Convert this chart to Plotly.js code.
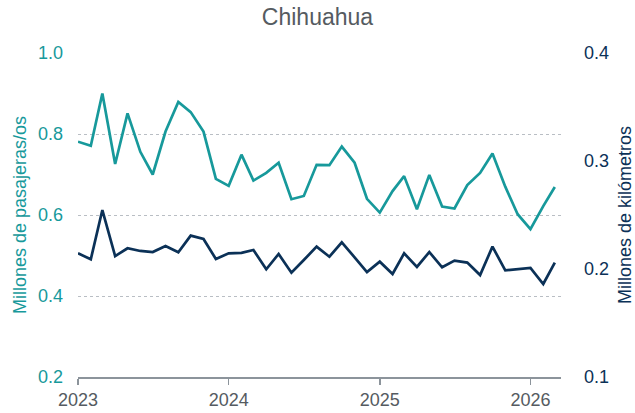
<!DOCTYPE html>
<html>
<head>
<meta charset="utf-8">
<script src="https://cdn.plot.ly/plotly-3.0.1.min.js"></script>
<style>html,body{margin:0;padding:0;background:#fff}#chart{width:635px;height:413px}</style>
</head>
<body>
<div id="chart"></div>
<script>
var months = [
  "2023-01-01","2023-02-01","2023-03-01","2023-04-01","2023-05-01","2023-06-01",
  "2023-07-01","2023-08-01","2023-09-01","2023-10-01","2023-11-01","2023-12-01",
  "2024-01-01","2024-02-01","2024-03-01","2024-04-01","2024-05-01","2024-06-01",
  "2024-07-01","2024-08-01","2024-09-01","2024-10-01","2024-11-01","2024-12-01",
  "2025-01-01","2025-02-01","2025-03-01","2025-04-01","2025-05-01","2025-06-01",
  "2025-07-01","2025-08-01","2025-09-01","2025-10-01","2025-11-01","2025-12-01",
  "2026-01-01","2026-02-01","2026-03-01"
];
var pasajeros = [
  0.781,0.771,0.900,0.726,0.851,0.756,0.700,0.806,0.879,0.854,0.806,0.689,
  0.672,0.749,0.685,0.704,0.729,0.639,0.647,0.724,0.723,0.769,0.729,0.640,
  0.606,0.659,0.696,0.614,0.699,0.621,0.616,0.674,0.704,0.752,0.670,0.602,
  0.565,0.622,0.669
];
var kilometros = [
  0.2145,0.209,0.2546,0.212,0.2192,0.2167,0.2157,0.2213,0.2155,0.2309,0.2278,0.2093,
  0.2145,0.215,0.2176,0.1997,0.2139,0.1966,0.2083,0.2207,0.2114,0.2247,0.2108,0.1972,
  0.2068,0.1954,0.2145,0.2019,0.2157,0.2016,0.2077,0.2059,0.1944,0.2207,0.1988,0.1997,
  0.2009,0.1861,0.2059
];
var yearTicks = ["2023-01-01","2024-01-01","2025-01-01","2026-01-01"];
var yearLabels = ["2023","2024","2025","2026"];

var teal = "#17999b";
var navy = "#0b3157";
var FONT = "Liberation Sans, Arial, sans-serif";

var traces = [
  {x: months, y: pasajeros, type: "scatter", mode: "lines", yaxis: "y",
   line: {color: teal, width: 2.7}, hoverinfo: "skip"},
  {x: months, y: kilometros, type: "scatter", mode: "lines", yaxis: "y2",
   line: {color: navy, width: 2.7}, hoverinfo: "skip"}
];

var layout = {
  width: 635, height: 413,
  margin: {l: 78, r: 74, t: 53, b: 36, pad: 0},
  paper_bgcolor: "#ffffff", plot_bgcolor: "#ffffff",
  showlegend: false,
  font: {family: FONT, size: 18, color: "#555b61"},
  title: {text: "Chihuahua", x: 0.5, xanchor: "center", y: 0.978, yanchor: "top",
          font: {family: FONT, size: 23, color: "#555b61"}},
  xaxis: {
    type: "date", range: ["2023-01-01", "2026-03-16"],
    tickvals: yearTicks, ticktext: yearLabels,
    showgrid: false, zeroline: false,
    showline: true, linecolor: "#8c949b", linewidth: 1.5,
    ticks: "outside", ticklen: 6, tickwidth: 1.5, tickcolor: "#8c949b",
    tickfont: {family: FONT, size: 18, color: "#555b61"}
  },
  yaxis: {
    range: [0.2, 1.0], tickvals: [0.2, 0.4, 0.6, 0.8, 1.0], tickformat: ".1f",
    showgrid: true, gridcolor: "#b9bec4", griddash: "dot", gridwidth: 1,
    zeroline: false, showline: false, ticks: "", ticklabelstandoff: 14,
    tickfont: {family: FONT, size: 18, color: teal},
    title: {text: "Millones de pasajeras/os", standoff: 6,
            font: {family: FONT, size: 18, color: teal}}
  },
  yaxis2: {
    overlaying: "y", side: "right",
    range: [0.1, 0.4], tickvals: [0.1, 0.2, 0.3, 0.4], tickformat: ".1f",
    showgrid: false, zeroline: false, showline: false, ticks: "", ticklabelstandoff: 22,
    tickfont: {family: FONT, size: 18, color: navy},
    title: {text: "Millones de kilómetros", standoff: 10,
            font: {family: FONT, size: 18, color: navy}}
  }
};

Plotly.newPlot("chart", traces, layout, {displayModeBar: false, staticPlot: true});
</script>
</body>
</html>
